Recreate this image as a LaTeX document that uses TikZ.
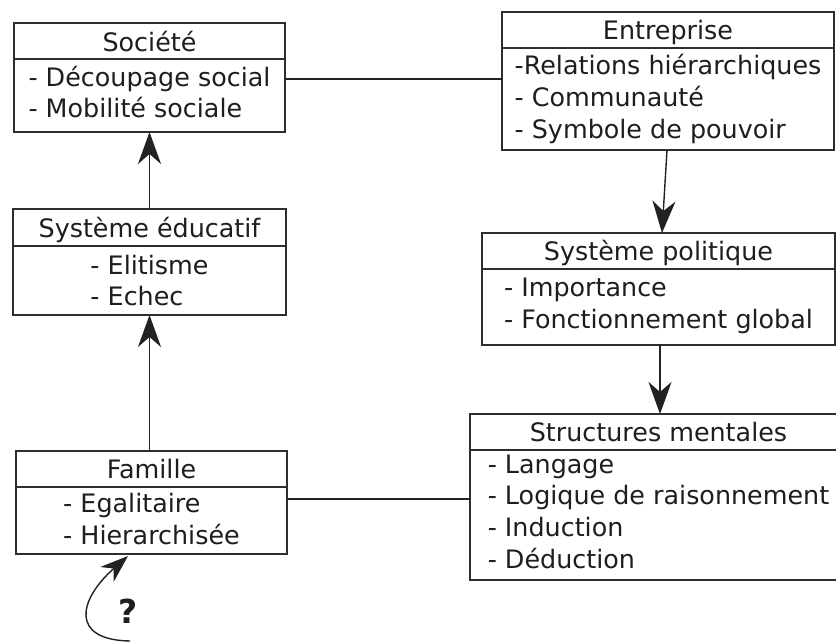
\documentclass[tikz,border=0pt]{standalone}
\usepackage{fontspec}
\setmainfont{DejaVu Sans}
\usetikzlibrary{arrows.meta}
\definecolor{boxc}{HTML}{2E2E2E}
\definecolor{txtc}{HTML}{1E1E1E}
\definecolor{linec}{HTML}{222222}
\begin{document}
\begin{tikzpicture}[x=1pt,y=-1pt,
  box/.style={draw=boxc, line width=1.8pt, rectangle, inner sep=0pt, outer sep=0pt, anchor=north west},
  sepline/.style={draw=boxc, line width=1.8pt},
  ttl/.style={anchor=base, inner sep=0pt, font=\fontsize{25.4}{31.7}\selectfont, text=txtc},
  body/.style={anchor=north, inner sep=0pt, align=left, font=\fontsize{25.4}{31.7}\selectfont, text=txtc},
  link/.style={draw=linec, line width=1.4pt},
  arr/.style={link, -{Stealth[length=32pt,width=23pt,inset=10pt]}},
  carr/.style={link, -{Stealth[length=28pt,width=20pt,inset=9pt]}},
]
\useasboundingbox (0,0) rectangle (836,643);
\clip (0,0) rectangle (836,643);
\fill[white] (0,0) rectangle (836,643);

% Société
\node[box, minimum width=271pt, minimum height=109pt] (soc) at (14,23) {};
\draw[sepline] (soc.west |- 0,59) -- (soc.east |- 0,59);
\node[ttl] (soct) at (149.5,51) {Société};
\node[body] (socb) at (149.5,64) {\rule{0pt}{22pt}- Découpage social\\- Mobilité sociale};

% Entreprise
\node[box, minimum width=332pt, minimum height=138pt] (ent) at (502,12) {};
\draw[sepline] (ent.west |- 0,48) -- (ent.east |- 0,48);
\node[ttl] (entt) at (668,39.5) {Entreprise};
\node[body] (entb) at (668,52.5) {\rule{0pt}{22pt}-Relations hiérarchiques\\- Communauté\\- Symbole de pouvoir};

% Système éducatif
\node[box, minimum width=273pt, minimum height=106pt] (edu) at (13,209) {};
\draw[sepline] (edu.west |- 0,246) -- (edu.east |- 0,246);
\node[ttl] (edut) at (149.5,237) {Système éducatif};
\node[body] (edub) at (149.5,252) {\rule{0pt}{22pt}- Elitisme\\- Echec};

% Système politique
\node[box, minimum width=353pt, minimum height=112pt] (pol) at (482,233) {};
\draw[sepline] (pol.west |- 0,269) -- (pol.east |- 0,269);
\node[ttl] (polt) at (658.5,260.5) {Système politique};
\node[body] (polb) at (658.5,274.7) {\rule{0pt}{22pt}- Importance\\- Fonctionnement global};

% Famille
\node[box, minimum width=271pt, minimum height=103pt] (fam) at (16,451) {};
\draw[sepline] (fam.west |- 0,487) -- (fam.east |- 0,487);
\node[ttl] (famt) at (151.5,478.5) {Famille};
\node[body] (famb) at (151.5,490.7) {\rule{0pt}{22pt}- Egalitaire\\- Hierarchisée};

% Structures mentales
\node[box, minimum width=377pt, minimum height=166pt] (str) at (470,414) {};
\draw[sepline] (str.west |- 0,450) -- (str.east |- 0,450);
\node[ttl] (strt) at (658.5,441.5) {Structures mentales};
\node[body] (strb) at (658.5,451) {\rule{0pt}{22pt}- Langage\\- Logique de raisonnement\\- Induction\\- Déduction};

% connectors
\draw[link] (soc.east |- 0,79) -- (ent.west |- 0,79);
\draw[link] (fam.east |- 0,499) -- (str.west |- 0,499);
\draw[arr] (edu.north -| soc.south) -- (soc.south);
\draw[arr] (fam.north -| edu.south) -- (edu.south);
\draw[arr] ([xshift=-1pt]ent.south) -- ([xshift=3.5pt]pol.north);
\draw[arr] ([xshift=1.5pt]pol.south) -- ([xshift=1.5pt]str.north);

% question curve
\coordinate (qs) at (130,641);
\draw[carr] (qs) .. controls (70,640) and (78,600) .. ([xshift=112pt,yshift=-2pt]fam.south west);
\node[anchor=base, inner sep=0pt, font=\fontsize{33}{40}\selectfont\bfseries, text=txtc] (q) at (128,623) {?};
\end{tikzpicture}
\end{document}
